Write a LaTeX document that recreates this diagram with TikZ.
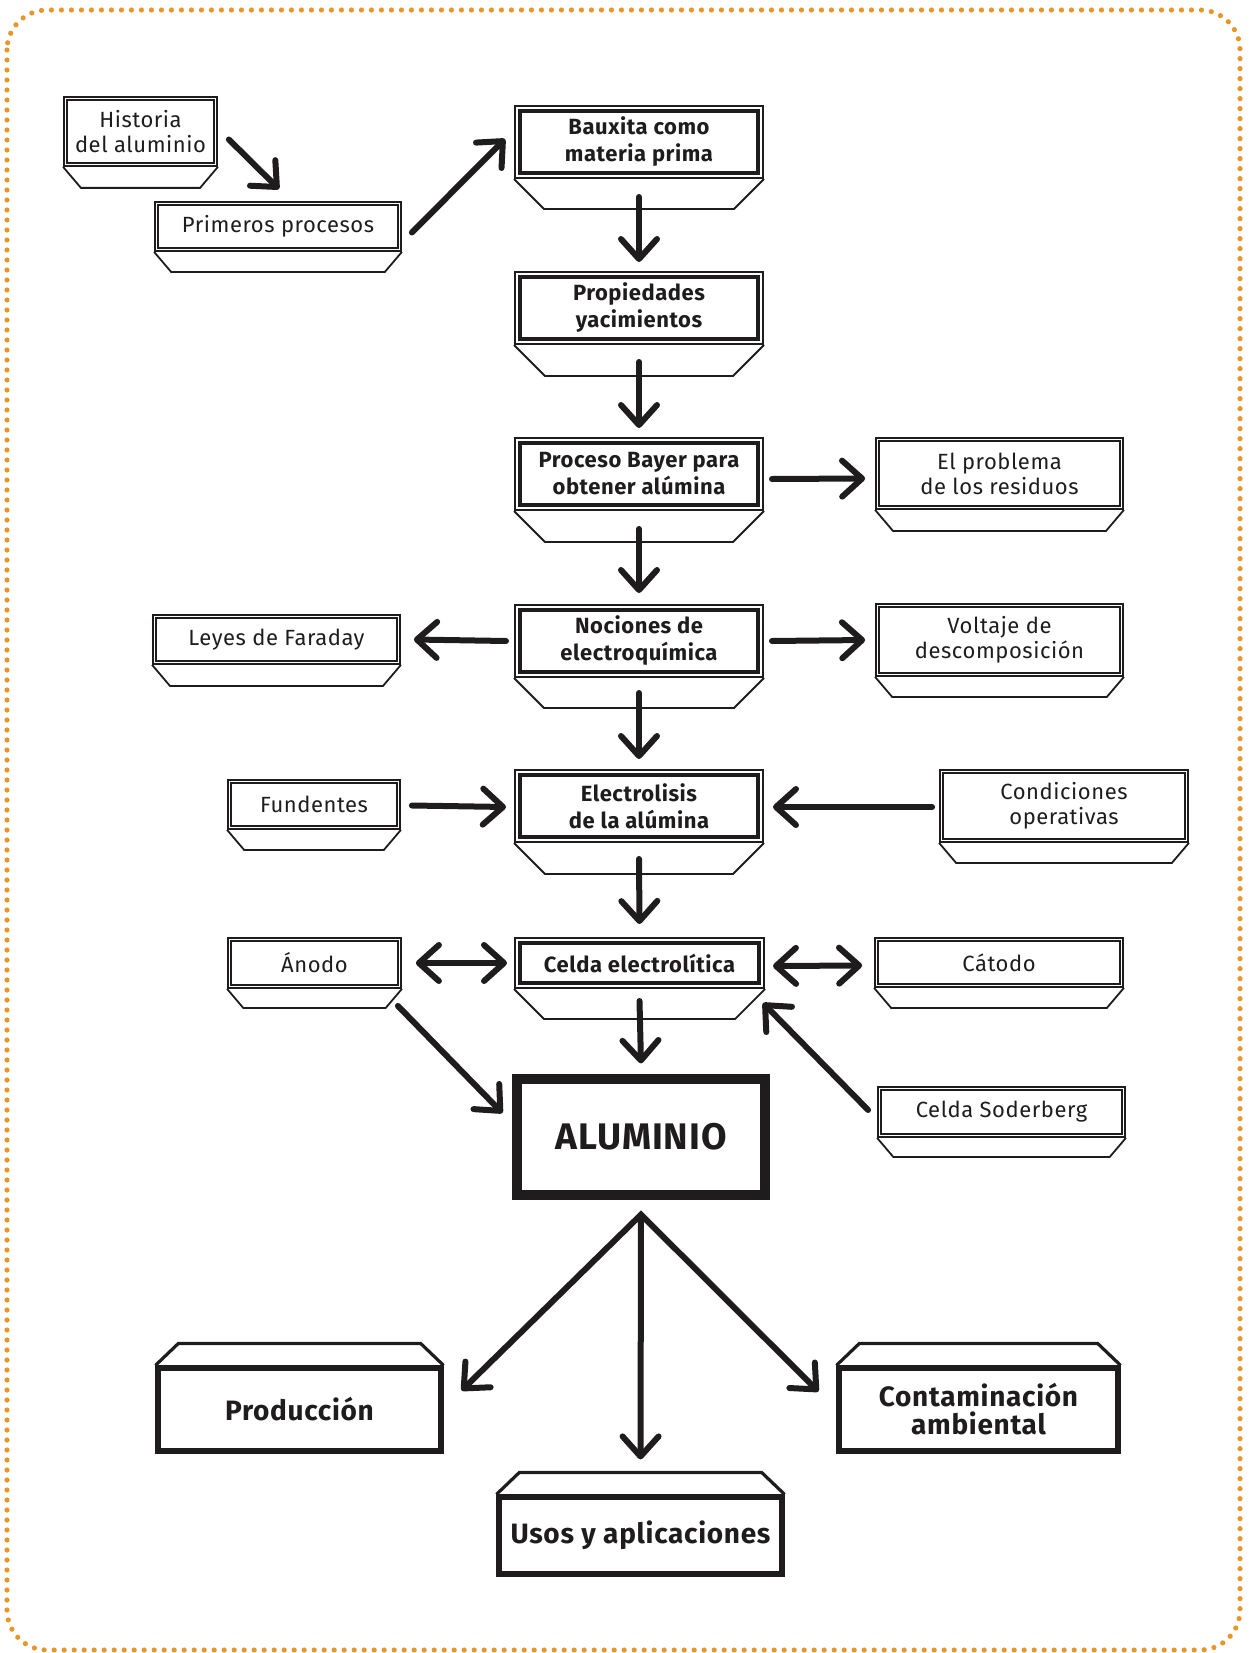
\documentclass[tikz,border=0pt]{standalone}
\usepackage{fontspec}
\setmainfont{Fira Sans}[LetterSpace=2.5]
\usetikzlibrary{arrows.meta,calc,fit}
\definecolor{dotor}{HTML}{E8962A}
\definecolor{ink}{HTML}{1E1C1C}

\tikzset{
  thinl/.style={line width=0.9pt, draw=ink},
  frame/.style={inner sep=0pt},
  smalltext/.style={align=center, font=\fontsize{11}{12.5}\selectfont, text=ink, inner sep=0pt},
  maintext/.style={align=center, font=\fontsize{11}{13.5}\selectfont\bfseries, text=ink, inner sep=0pt},
  alutext/.style={align=center, font=\fontsize{18.5}{20}\selectfont\bfseries, text=ink, inner sep=0pt},
  endtext/.style={align=center, font=\fontsize{14}{14}\selectfont\bfseries, text=ink, inner sep=0pt},
  arr/.style={draw=ink, line width=3pt, line cap=round,
    -{Straight Barb[length=10pt,width=18pt,round]}},
  darr/.style={draw=ink, line width=3pt, line cap=round,
    {Straight Barb[length=10pt,width=18pt,round]}-{Straight Barb[length=10pt,width=18pt,round]}},
  dotborder/.style={draw=dotor, line width=2.6pt, line cap=round,
    dash pattern=on 0pt off 5pt, rounded corners=20pt}
}

% small box: name, x1, y1, x2, y2, base height, text
\newcommand\smbox[7]{%
  \node[frame, draw=ink, line width=0.9pt, fit={(#2,#3) (#4,#5)}] (#1) {};
  \node[smalltext] (#1-t) at (#1.center) {#7};
  \draw[thinl] ([shift={(4,4)}]#1.north west) rectangle ([shift={(-4,-4)}]#1.south east);
  \draw[thinl] (#1.south west) -- ++(#6*0.85,#6) -- ($(#1.south east)+(-#6*0.85,#6)$) -- (#1.south east);
}
% main (centre column) box
\newcommand\mnbox[7]{%
  \node[frame, draw=ink, line width=1pt, fit={(#2,#3) (#4,#5)}] (#1) {};
  \node[maintext] (#1-t) at (#1.center) {#7};
  \draw[draw=ink, line width=2pt] ([shift={(6,6)}]#1.north west) rectangle ([shift={(-6,-6)}]#1.south east);
  \draw[thinl] (#1.south west) -- ++(#6,#6) -- ($(#1.south east)+(-#6,#6)$) -- (#1.south east);
}
% bottom boxes with a lid on top
\newcommand\enbox[6]{%
  \node[frame, draw=ink, line width=1.6pt, fit={(#2,#3) (#4,#5)}] (#1) {};
  \node[endtext] (#1-t) at (#1.center) {#6};
  \draw[draw=ink, line width=1pt] ([shift={(5,5)}]#1.north west) rectangle ([shift={(-5,-5)}]#1.south east);
  \draw[draw=ink, line width=1.6pt, line join=miter] (#1.north west) -- ++(23,-22) -- ($(#1.north east)+(-23,-22)$) -- (#1.north east);
}

\begin{document}
\begin{tikzpicture}[x=0.5pt,y=-0.5pt]
\useasboundingbox (0,0) rectangle (1253,1653);
\draw[dotborder] (7,10) rectangle (1240,1650);

% left column
\smbox{his}{64}{97}{217}{166}{21}{Historia\\del aluminio}
\smbox{pri}{155}{202}{401}{251}{20}{Primeros procesos}
\smbox{ley}{153}{615}{400}{664}{21}{Leyes de Faraday}
\smbox{fun}{228}{780}{400}{829}{20}{Fundentes}
\smbox{ano}{228}{938}{401}{988}{19}{Ánodo}

% centre column
\mnbox{bau}{515}{106}{763}{178}{30}{Bauxita como\\materia prima}
\mnbox{pro}{515}{272}{763}{344}{31}{Propiedades\\yacimientos}
\mnbox{bay}{515}{438}{763}{510}{31}{Proceso Bayer para\\obtener alúmina}
\mnbox{noc}{515}{605}{763}{677}{30}{Nociones de\\electroquímica}
\mnbox{ele}{515}{770}{763}{842}{31}{Electrolisis\\de la alúmina}
\mnbox{cel}{515}{938}{764}{988}{30}{Celda electrolítica}

\node[frame, draw=ink, line width=2.6pt, fit={(515,1077) (767,1197)}] (alu) {};
\node[alutext] (alu-t) at (alu.center) {ALUMINIO};
\draw[draw=ink, line width=2pt] ([shift={(7.5,7.5)}]alu.north west) rectangle ([shift={(-7.5,-7.5)}]alu.south east);

% right column
\smbox{prob}{876}{438}{1123}{509}{21}{El problema\\de los residuos}
\smbox{vol}{876}{604}{1123}{676}{20}{Voltaje de\\descomposición}
\smbox{con}{940}{770}{1188}{842}{20}{Condiciones\\operativas}
\smbox{cat}{875}{938}{1123}{987}{20}{Cátodo}
\smbox{sod}{878}{1087}{1125}{1137}{19}{Celda Soderberg}

% bottom
\enbox{prod}{157}{1367}{442}{1452}{Producción}
\enbox{cont}{838}{1367}{1119}{1452}{Contaminación\\ambiental}
\enbox{usos}{498}{1496}{783}{1575}{Usos y aplicaciones}

% connectors
\draw[arr] ($(his.east)+(11,8)$) -- ($(pri.north)+(1,-12)$);
\draw[arr] ($(pri.east)+(10,6)$) -- ($(bau.west)+(-9,-3)$);

\draw[arr] ($(bau.south)+(0,18)$) -- ($(pro.north)+(0,-9)$);
\draw[arr] ($(pro.south)+(0,17)$) -- ($(bay.north)+(0,-9)$);
\draw[arr] ($(bay.south)+(0,18)$) -- ($(noc.north)+(0,-11)$);
\draw[arr] ($(noc.south)+(0,15)$) -- ($(ele.north)+(0,-10)$);
\draw[arr] ($(ele.south)+(0,16)$) -- ($(cel.north)+(0,-13)$);
\draw[arr] ($(cel.south)+(0,12)$) -- ($(alu.north)+(0,-11)$);

\draw[arr] ($(bay.east)+(8,5)$) -- ($(prob.west)+(-10,5)$);
\draw[arr] ($(noc.west)+(-8,0)$) -- ($(ley.east)+(13,0)$);
\draw[arr] ($(noc.east)+(8,0)$) -- ($(vol.west)+(-10,0)$);
\draw[arr] ($(fun.east)+(11,1)$) -- ($(ele.west)+(-8,1)$);
\draw[arr] ($(con.west)+(-7,1)$) -- ($(ele.east)+(9,1)$);
\draw[darr] ($(ano.east)+(14,0)$) -- ($(cel.west)+(-7,0)$);
\draw[darr] ($(cel.east)+(8,3)$) -- ($(cat.west)+(-12,3)$);
\draw[arr] ($(ano.south east)+(-4,17)$) -- ($(alu.west)+(-10,-24)$);
\draw[arr] ($(sod.west)+(-9,-2)$) -- ($(cel.south east)+(-2,14)$);

\coordinate (apex) at ($(alu.south)+(0,15)$);
\coordinate (prodin) at ($(prod.east)+(18,-19)$);
\coordinate (contin) at ($(cont.west)+(-18,-18)$);
\coordinate (usosin) at ($(usos.north)+(0,-35)$);
\draw[darr, line join=miter] (prodin) -- (apex) -- (contin);
\draw[arr, line cap=butt] (apex) -- (usosin);
\end{tikzpicture}
\end{document}
